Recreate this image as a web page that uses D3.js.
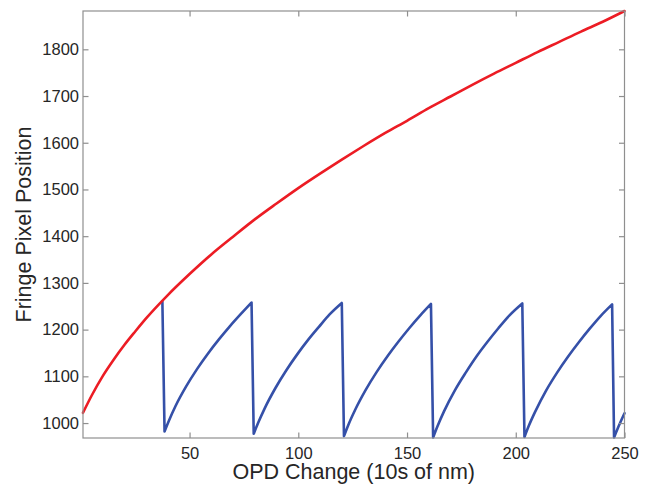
<!DOCTYPE html>
<html>
<head>
<meta charset="utf-8">
<script src="https://cdn.jsdelivr.net/npm/d3@7/dist/d3.min.js"></script>
<style>
  html, body { margin: 0; padding: 0; background: #ffffff; }
  svg { display: block; }
  text { font-family: "Liberation Sans", Arial, Helvetica, sans-serif; fill: #262626; }
</style>
</head>
<body>
<svg id="chart" width="655" height="487"></svg>
<script>
// ---- data ----
const xTicks = [50, 100, 150, 200, 250];
const yTicks = [1000, 1100, 1200, 1300, 1400, 1500, 1600, 1700, 1800];

const redX = [1, 5, 10, 15, 20, 25, 30, 40, 50, 60, 70, 80, 90, 100, 110, 120, 130, 140, 150, 160, 170, 180, 190, 200, 210, 220, 230, 240, 250];
const redY = [1022, 1059, 1100, 1135, 1167, 1196, 1224, 1274, 1319, 1361, 1399, 1436, 1470, 1503, 1534, 1564, 1593, 1621, 1647, 1674, 1699, 1724, 1748, 1771, 1794, 1816, 1838, 1859, 1882];

const blueX = [37.5,
  38.5, 40.5, 43.5, 48.5, 53.5, 58.5, 63.5, 68.5, 73.5, 78.5,
  79.5, 81.5, 84.5, 89.5, 94.5, 99.5, 104.5, 109.5, 114.5, 120,
  121, 123, 126, 131, 136, 141, 146, 151, 156, 161,
  162, 164, 167, 172, 177, 182, 187, 192, 197, 203,
  204, 206, 209, 214, 219, 224, 229, 234, 239, 244.3,
  245.2, 247.2, 250];
const blueY = [1260,
  982, 1005, 1036, 1079, 1116, 1149, 1179, 1207, 1233, 1258,
  977, 1000, 1031, 1075, 1113, 1147, 1178, 1206, 1233, 1257,
  972, 996, 1027, 1071, 1109, 1143, 1174, 1203, 1230, 1255,
  969, 993, 1025, 1070, 1108, 1143, 1174, 1203, 1230, 1256,
  970, 994, 1025, 1070, 1108, 1142, 1173, 1202, 1229, 1254,
  969, 992, 1021];

const xLabel = "OPD Change (10s of nm)";
const yLabel = "Fringe Pixel Position";

// ---- layout ----
const svg = d3.select("#chart");
const L = 83, R = 624.5, T = 11, B = 438;
const x = d3.scaleLinear().domain([1, 250]).range([L, R]);
const y = d3.scaleLinear().domain([968, 1882]).range([B, T]);
const axisColor = "#8f8f8f";
const tickLen = 5.5;

// ---- series ----
const lineGen = d3.line().x(d => x(d[0])).y(d => y(d[1])).curve(d3.curveMonotoneX);

// blue: smooth rising runs joined by straight drops
const bluePts = blueX.map((v, i) => [v, blueY[i]]);
const runs = [];
let cur = [bluePts[0]];
for (let i = 1; i < bluePts.length; i++) {
  if (bluePts[i][1] < bluePts[i - 1][1]) { runs.push(cur); cur = []; }
  cur.push(bluePts[i]);
}
runs.push(cur);
let bluePath = "";
runs.forEach((r, i) => {
  let s = r.length > 1 ? lineGen(r) : "M" + x(r[0][0]) + "," + y(r[0][1]);
  if (i > 0) s = "L" + s.slice(1);
  bluePath += s;
});

const plot = svg.append("g");
plot.append("path")
  .attr("d", bluePath)
  .attr("fill", "none")
  .attr("stroke", "#3550a8")
  .attr("stroke-width", 2.6)
  .attr("stroke-linejoin", "round")
  .attr("stroke-linecap", "round");

plot.append("path")
  .attr("d", lineGen(redX.map((v, i) => [v, redY[i]])))
  .attr("fill", "none")
  .attr("stroke", "#ec1c24")
  .attr("stroke-width", 2.6)
  .attr("stroke-linejoin", "round")
  .attr("stroke-linecap", "round");

// ---- axes (box with inward ticks on all sides) ----
const axG = svg.append("g");
axG.append("rect")
  .attr("x", L).attr("y", T).attr("width", R - L).attr("height", B - T)
  .attr("fill", "none").attr("stroke", axisColor).attr("stroke-width", 1.2);

const bottomAxis = d3.axisBottom(x).tickValues(xTicks).tickSize(-tickLen).tickPadding(9).tickFormat(d3.format("d"));
const topAxis = d3.axisTop(x).tickValues(xTicks).tickSize(-tickLen).tickFormat("");
const leftAxis = d3.axisLeft(y).tickValues(yTicks).tickSize(-tickLen).tickPadding(4).tickFormat(d3.format("d"));
const rightAxis = d3.axisRight(y).tickValues(yTicks).tickSize(-tickLen).tickFormat("");

function style(g) {
  g.select(".domain").remove();
  g.selectAll(".tick line").attr("stroke", axisColor).attr("stroke-width", 1.2);
  g.selectAll(".tick text").attr("fill", "#262626").style("font-size", "16.5px")
    .style("font-family", '"Liberation Sans", Arial, sans-serif');
}
axG.append("g").attr("transform", `translate(0,${B})`).call(bottomAxis).call(style);
axG.append("g").attr("transform", `translate(0,${T})`).call(topAxis).call(style);
axG.append("g").attr("transform", `translate(${L},0)`).call(leftAxis).call(style);
axG.append("g").attr("transform", `translate(${R},0)`).call(rightAxis).call(style);

// ---- axis titles ----
svg.append("text")
  .attr("x", (L + R) / 2).attr("y", 479)
  .attr("text-anchor", "middle")
  .style("font-size", "21.5px")
  .text(xLabel);

svg.append("text")
  .attr("transform", `translate(31,${(T + B) / 2}) rotate(-90)`)
  .attr("text-anchor", "middle")
  .style("font-size", "21.5px")
  .text(yLabel);
</script>
</body>
</html>
